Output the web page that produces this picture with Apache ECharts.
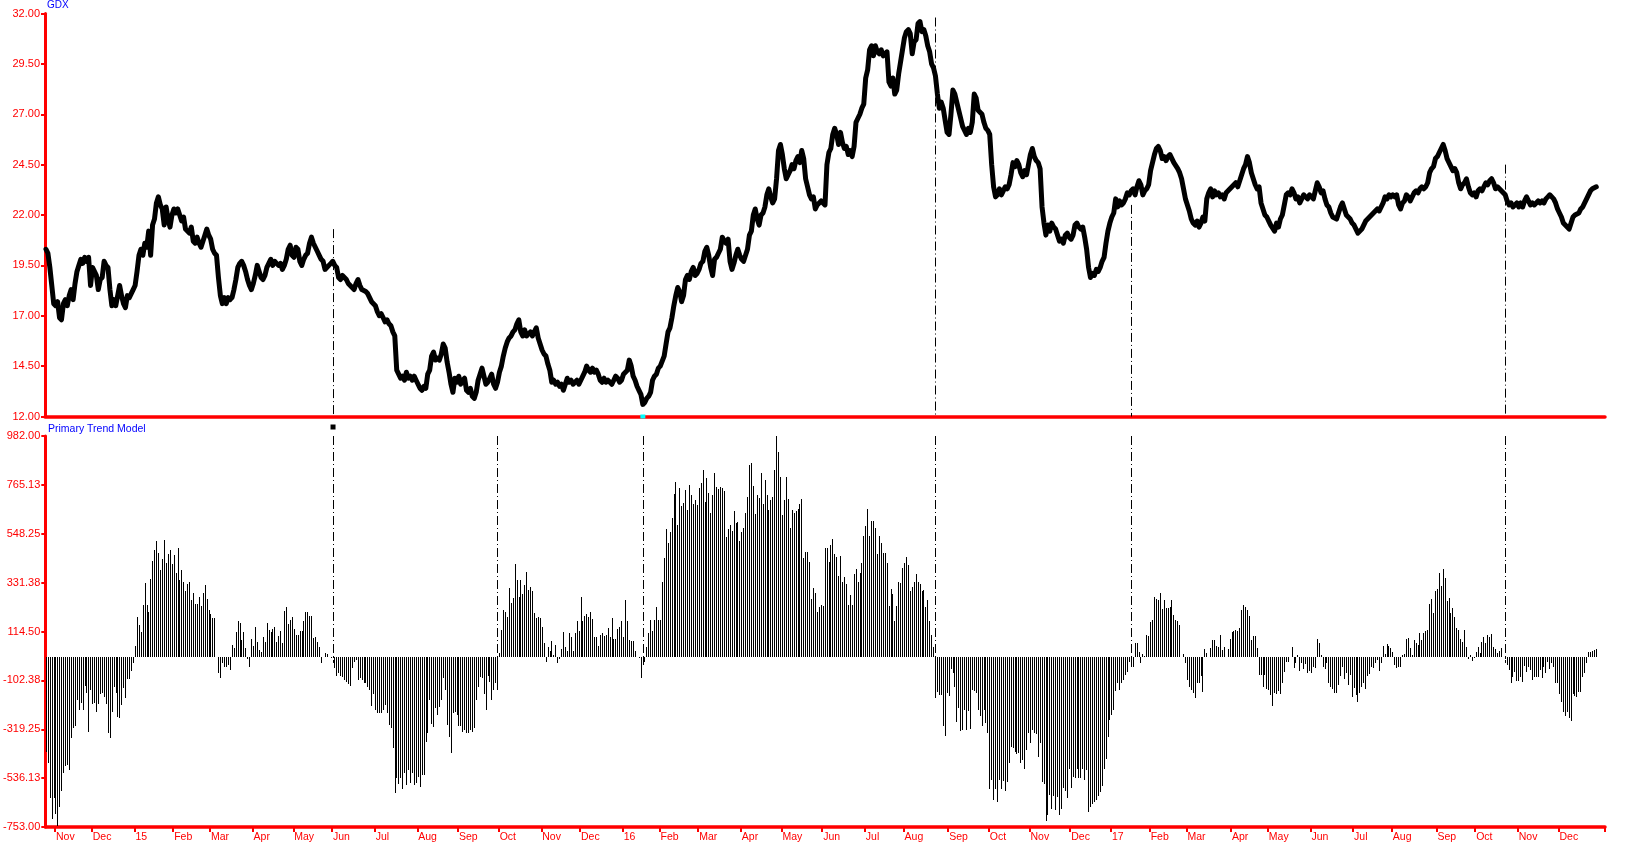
<!DOCTYPE html>
<html><head><meta charset="utf-8">
<script src="https://cdn.jsdelivr.net/npm/echarts@6/dist/echarts.min.js"></script>
<style>html,body{margin:0;padding:0;background:#fff}#chart{width:1647px;height:847px}</style>
</head><body><div id="chart"></div>
<script>
// ---------- DATA (daily) ----------
// GDX daily price (approx. close), one value per trading day
const gdx2014 = [20.3,20.1,19.4,18.5,17.6,
 17.5,17.7,16.9,16.8,17.6,17.8,17.5,18.0,18.3,17.8,18.6,19.2,19.5,19.8,19.6,19.9,19.7,19.9,18.5,
 19.4,19.2,19.0,18.3,18.8,18.9,19.7,19.5,19.4,18.3,17.5,17.8,17.5,18.0,18.5,18.0,17.6,17.4,18.0,17.9,18.1,18.3];
const gdx2015 = [
 18.5,19.2,20.0,20.3,20.0,20.6,20.4,21.2,20.0,21.5,21.8,22.6,22.9,22.5,22.3,21.5,22.4,21.8,21.4,22.0,
 22.3,22.1,22.3,22.0,21.7,21.9,21.3,21.2,21.1,21.4,20.7,20.6,20.9,20.6,20.4,20.7,21.0,21.3,21.0,
 20.8,20.3,20.1,20.0,18.9,18.0,17.6,17.9,17.6,17.9,17.8,17.9,18.3,18.8,19.4,19.6,19.7,19.5,19.2,18.8,18.5,18.3,
 18.6,19.0,19.5,19.2,18.9,18.8,19.0,19.4,19.6,19.8,19.5,19.7,19.6,19.5,19.6,19.3,19.5,19.8,20.3,20.5,20.0,
 19.9,20.4,20.3,19.7,19.5,19.8,20.0,20.1,20.6,20.9,20.6,20.6,20.2,20.0,19.8,19.7,19.3,19.3,19.5,19.6,
 19.7,19.5,19.4,18.9,18.8,19.0,18.9,18.8,18.6,18.5,18.4,18.3,18.6,18.8,18.5,18.3,18.3,18.2,18.1,17.9,17.7,17.6,
 17.5,17.2,17.0,17.1,16.9,16.7,16.8,16.6,16.5,16.2,16.0,14.3,14.1,13.9,14.0,13.8,14.2,13.9,14.0,13.8,14.0,13.8,
 13.6,13.4,13.3,13.5,13.4,14.1,14.3,15.0,15.2,14.8,14.9,14.8,15.1,15.6,15.4,14.7,14.2,13.6,13.2,13.9,13.7,
 14.0,13.6,13.8,13.9,13.3,13.2,13.4,13.0,12.9,13.2,13.8,14.1,14.4,14.0,13.6,13.7,13.9,14.1,13.6,13.4,13.7,
 14.2,14.5,15.0,15.4,15.7,15.9,16.0,16.2,16.3,16.6,16.8,16.2,16.0,16.3,16.0,16.1,16.2,16.0,16.2,16.4,15.9,15.6,
 15.3,15.1,15.0,14.6,14.3,13.7,13.8,13.6,13.7,13.5,13.6,13.3,13.6,13.9,13.7,13.8,13.6,13.7,13.8,13.6,
 13.8,14.0,14.2,14.5,14.3,14.2,14.4,14.2,14.3,14.1,13.8,13.7,13.9,13.7,13.8,13.7,13.6,13.8,14.0,13.9,13.7,13.8];
const gdx2016 = [
 14.1,14.2,14.3,14.8,14.5,14.0,13.8,13.5,13.3,13.1,12.6,12.7,12.9,13.0,13.2,13.8,14.0,14.1,14.4,
 14.5,14.5,15.0,15.6,16.2,16.4,16.9,17.5,18.0,18.4,18.2,17.7,18.0,18.8,19.0,18.8,19.2,19.4,19.0,19.1,
 19.3,19.6,19.7,20.2,20.4,20.0,19.4,19.0,19.8,19.9,20.1,20.3,20.9,20.7,20.6,20.8,19.7,19.3,19.6,20.0,20.3,20.0,
 19.8,19.7,20.0,20.3,21.0,21.2,22.0,22.3,21.8,21.5,22.0,22.1,22.4,23.0,23.3,22.9,22.6,22.8,23.8,25.2,25.5,
 25.0,24.3,23.8,24.0,24.2,24.5,24.3,24.7,24.9,24.6,25.2,24.8,23.8,23.4,23.0,22.8,22.9,22.3,22.5,22.6,22.7,
 22.6,22.5,24.5,25.1,25.3,26.0,26.3,26.0,25.5,26.1,25.6,25.3,25.4,25.0,25.2,24.9,25.4,26.6,26.8,27.0,27.3,27.5,
 28.8,29.2,30.2,30.4,29.9,30.4,30.1,30.0,30.2,29.9,30.0,30.1,28.6,28.4,28.8,28.0,28.2,29.0,29.6,30.2,
 30.8,31.1,31.2,31.0,30.0,30.6,30.7,31.5,31.6,31.1,31.2,30.9,30.4,30.1,29.5,29.3,28.9,28.0,27.3,27.6,27.3,26.7,26.1,
 26.0,27.0,28.2,28.0,28.0,27.2,26.8,26.4,26.2,26.0,26.3,26.1,26.6,28.0,27.8,27.2,27.1,27.0,26.6,26.3,26.2,
 26.0,24.5,23.4,22.9,23.0,23.3,23.0,23.2,23.4,23.3,23.5,24.0,24.6,24.4,24.7,24.5,24.1,23.9,24.2,24.0,24.5,
 25.0,25.3,24.9,24.7,24.6,24.3,22.4,21.6,21.0,21.5,21.2,21.6,21.4,21.3,21.0,20.7,20.8,20.6,21.0,21.1,20.9,
 20.8,21.0,21.5,21.6,21.4,21.3,21.4,20.9,20.3,19.4,18.9,19.1,19.0,19.3,19.2,19.4,19.7,19.9,20.6,21.2,21.6];
const gdx2017 = [
 21.9,22.1,22.8,22.4,22.7,22.5,22.6,22.8,23.1,23.0,23.2,23.3,23.0,23.4,23.7,23.5,23.0,23.2,23.3,23.5,
 24.2,24.6,25.0,25.3,25.4,25.2,24.8,24.9,24.7,24.9,25.0,24.8,24.6,24.6,24.3,24.1,23.8,23.3,22.8,
 22.5,22.2,21.8,21.6,21.5,21.7,21.4,21.6,21.9,21.7,22.8,23.1,23.3,22.9,23.2,23.0,23.1,22.9,23.0,22.8,23.1,23.2,23.3,
 23.3,23.5,23.6,23.4,23.7,24.0,24.3,24.5,24.9,24.6,24.1,23.8,23.5,23.3,23.4,22.6,22.3,22.0,21.9,
 21.7,21.5,21.5,21.2,21.6,21.4,21.8,22.0,22.5,23.0,23.1,23.0,23.3,23.1,22.8,22.9,22.6,22.8,23.0,22.9,22.8,23.0,
 22.9,22.8,23.2,23.6,23.4,23.1,23.2,22.8,22.5,22.4,22.1,21.9,21.9,21.8,22.1,22.4,22.6,22.3,22.0,21.9,21.8,21.6,
 21.5,21.3,21.1,21.2,21.3,21.5,21.7,21.8,21.9,22.0,22.1,22.2,22.3,22.2,22.4,22.6,22.9,22.8,23.0,22.9,
 23.0,22.9,23.0,22.5,22.3,22.6,22.7,23.0,22.9,22.7,22.9,23.1,23.2,23.1,23.3,23.4,23.3,23.4,23.6,24.1,24.3,24.4,24.8,
 24.9,25.1,25.3,25.5,25.2,24.8,24.6,24.4,24.2,24.3,24.1,23.6,23.3,23.5,23.6,23.8,23.4,23.1,23.0,23.1,
 22.9,23.2,23.3,23.2,23.4,23.6,23.5,23.7,23.8,23.6,23.3,23.4,23.3,23.2,23.1,23.0,22.7,22.5,22.6,22.4,22.5,22.6,
 22.4,22.6,22.4,22.7,22.9,22.7,22.5,22.6,22.5,22.6,22.7,22.6,22.7,22.6,22.8,22.9,23.0,23.0,22.8,22.6,22.3,
 22.1,21.9,21.6,21.5,21.5,21.3,21.6,21.9,22.0,22.0,22.1,22.3,22.4,22.6,22.8,23.0,23.2,23.3,23.3,23.4];

// Primary Trend Model histogram, one value per trading day
const ptm2014 = [-419,-468,-623,-719,-623,-696,-749,-663,-592,-515,-483,-478,-500,-357,-315,-305,-189,-234,-204,-234,
 -127,-160,-333,-145,-209,-201,-241,-209,-164,-160,-175,-209,-338,-357,-241,-133,-160,-263,-271,-212,-138,-182,-98,-98,-60,-24];
const ptm2015 = [
 50,178,142,112,231,330,231,201,346,426,474,518,462,388,435,521,417,459,474,412,
 453,376,487,343,388,336,292,327,332,255,284,237,237,269,228,287,321,258,210,
 190,173,173,3,-68,-93,-27,-41,-41,-34,-56,55,40,113,163,151,77,113,43,-9,-41,83,
 50,133,70,33,25,89,68,154,121,114,127,136,67,95,118,62,207,224,148,166,178,
 126,98,99,118,118,160,201,201,184,184,87,89,68,47,-24,2,18,13,2,-3,
 -4,-49,-83,-68,-83,-86,-101,-108,-118,-127,-49,-19,-12,-101,-93,-101,-115,-115,-130,-145,-216,-163,
 -234,-246,-249,-249,-234,-212,-249,-300,-315,-404,-600,-537,-560,-537,-586,-512,-567,-500,-557,-512,-567,-557,
 -530,-574,-523,-523,-375,-338,-189,-296,-308,-226,-256,-220,-189,-93,-145,-300,-355,-426,-249,-241,-256,
 -305,-305,-330,-323,-335,-338,-323,-330,-315,-189,-130,-89,-93,-163,-234,-83,-108,-189,-145,-115,-145,
 21,121,210,203,181,306,240,262,414,343,266,343,281,321,380,299,314,296,195,173,181,173,
 133,62,-19,44,30,73,10,55,-27,-9,36,113,47,30,107,89,30,107,163,118,
 269,163,184,192,181,201,169,89,92,50,98,110,95,100,129,89,173,80,80,124,133,163];
const ptm2016 = [
 89,255,163,77,74,74,30,3,-4,-93,-34,-19,44,107,166,118,166,225,166,
 166,332,440,568,506,554,617,725,776,588,750,672,684,743,654,765,721,681,699,676,
 750,773,829,687,795,731,642,721,820,755,746,755,750,736,533,568,588,562,647,598,602,514,
 558,573,639,713,854,862,758,637,721,706,820,681,788,720,654,699,713,829,983,913,799,
 632,699,799,702,573,654,639,647,660,681,702,440,469,469,425,258,306,287,203,222,232,
 228,484,484,425,499,524,457,447,361,450,336,355,324,232,277,232,370,391,332,373,420,539,
 583,657,539,607,607,573,459,539,509,462,462,420,228,302,281,163,228,336,329,395,
 417,444,410,292,311,332,370,332,326,296,299,225,255,163,99,44,-179,-155,-167,-167,-305,-349,-157,
 -172,-52,-71,-133,-286,-226,-327,-323,-234,-323,-237,-320,-145,-150,-160,-234,-261,-305,-234,-290,-335,
 -586,-545,-631,-586,-641,-545,-586,-548,-592,-552,-468,-400,-404,-419,-430,-423,-471,-456,-497,-412,-338,
 -382,-323,-338,-340,-441,-382,-552,-560,-725,-700,-611,-671,-616,-678,-622,-700,-675,-582,-592,-626,-497,
 -582,-530,-537,-497,-537,-537,-497,-545,-500,-685,-663,-651,-640,-631,-616,-597,-571,-497,-453,-355,-278];
const ptm2017 = [
 -256,-234,-148,-112,-145,-115,-101,-78,-64,-19,-41,-41,65,62,25,-27,13,6,99,95,
 158,166,266,260,255,287,213,255,218,218,222,255,188,166,163,144,0,15,-27,
 -101,-133,-145,-160,-182,-112,-112,-83,-152,36,18,3,40,77,77,50,44,98,33,44,0,36,80,
 111,118,121,117,129,210,232,222,210,184,77,95,95,40,-78,-78,-130,-78,-142,
 -145,-167,-216,-157,-163,-150,-163,-112,-64,-19,-19,0,47,-49,-27,10,-59,-27,-53,-30,-71,-59,
 -68,-44,-49,80,62,10,-41,-53,-27,-115,-133,-142,-160,-160,-123,-83,-41,-98,-68,-123,-78,-175,
 -138,-167,-197,-157,-133,-115,-142,-83,-74,-41,-49,-27,-12,-59,-27,50,15,59,50,40,
 25,-34,-49,-45,-41,10,15,80,84,40,10,77,65,55,107,77,107,118,121,237,258,195,292,
 302,373,317,391,351,252,262,195,218,178,129,121,80,70,121,47,-9,10,-15,-4,
 25,47,18,70,92,65,99,89,102,44,36,18,30,40,0,-9,-34,-56,-115,-89,-64,-104,
 -104,-86,-108,-38,-64,-41,-56,-101,-89,-89,-86,-56,-93,-41,-68,-19,-53,-27,-41,-115,-112,
 -163,-197,-241,-261,-241,-271,-281,-163,-172,-178,-152,-152,-89,-68,-27,25,25,30,33,35];

// Trading-day indices of the signal lines (from 2014-10-27) and the price where each top line starts
const signalTopIdx = [148, 459, 560, 753];
const signalTopFrom = [21.3, 31.8, 22.5, 24.5];
const signalBottomIdx = [148, 233, 308, 459, 560, 753];
const markBlackIdx = 148, markCyanIdx = 308;

const priceTicks = {min: 12, max: 32, step: 2.5};
const ptmTicks = {min: -753, max: 982, step: 216.875};
const MONTHS = ['Jan','Feb','Mar','Apr','May','Jun','Jul','Aug','Sep','Oct','Nov','Dec'];
const HOLIDAYS = ['2014-11-27','2014-12-25','2015-01-01','2015-01-19','2015-02-16','2015-04-03','2015-05-25',
 '2015-07-03','2015-09-07','2015-11-26','2015-12-25','2016-01-01','2016-01-18','2016-02-15','2016-03-25',
 '2016-05-30','2016-07-04','2016-09-05','2016-11-24','2016-12-26','2017-01-02','2017-01-16','2017-02-20',
 '2017-04-14','2017-05-29','2017-07-04','2017-09-04','2017-11-23','2017-12-25'];

// ---------- BUILD ----------
const price = [].concat(gdx2014, gdx2015, gdx2016, gdx2017);
const ptm = [].concat(ptm2014, ptm2015, ptm2016, ptm2017);
const N = Math.max(price.length, ptm.length);
const PAD = 4;

function buildDates(n) {
  const out = []; const d = new Date(Date.UTC(2014, 9, 27));
  while (out.length < n) {
    const wd = d.getUTCDay(); const s = d.toISOString().slice(0, 10);
    if (wd !== 0 && wd !== 6 && HOLIDAYS.indexOf(s) < 0) out.push(s);
    d.setUTCDate(d.getUTCDate() + 1);
  }
  return out;
}
const cats = buildDates(N + PAD);
const monthStart = cats.map((s, i) => i > 0 && i < N && s.slice(5, 7) !== cats[i - 1].slice(5, 7));
function monthLabel(s) {
  const m = +s.slice(5, 7) - 1;
  return m === 0 ? s.slice(2, 4) : MONTHS[m];
}

const RED = '#ff0000', BLUE = '#0000ff';
const FONT = '"Liberation Sans", Arial, sans-serif';
const DASH = [9, 3, 1, 3];

// crisp 1-px histogram bars, positioned through the axes' own scales
function renderPtmBar(params, api) {
  const i = api.value(0), v = api.value(1);
  const p0 = api.coord([i, 0]);
  const p1 = api.coord([i, v]);
  const x = Math.round(p0[0] - 0.5);
  const y0 = Math.round(p0[1]), y1 = Math.round(p1[1]);
  const h = Math.abs(y1 - y0);
  if (h < 1) return null;
  return {type: 'rect', shape: {x: x, y: Math.min(y0, y1), width: 1, height: h},
          style: {fill: '#000'}};
}

const chart = echarts.init(document.getElementById('chart'), null, {renderer: 'canvas'});
chart.setOption({
  animation: false,
  backgroundColor: '#ffffff',
  title: [
    {text: 'GDX', left: 47, top: 0, padding: 0, textStyle: {color: BLUE, fontSize: 10, fontWeight: 'normal', fontFamily: FONT}},
    {text: 'Primary Trend Model', left: 48, top: 424, padding: 0, textStyle: {color: BLUE, fontSize: 10.5, fontWeight: 'normal', fontFamily: FONT}}
  ],
  grid: [
    {left: 45, right: 42, top: 13.5, height: 403},
    {left: 45, right: 42, top: 436, height: 391}
  ],
  xAxis: [
    {gridIndex: 0, type: 'category', data: cats, boundaryGap: true,
     axisLine: {show: true, onZero: false, lineStyle: {color: RED, width: 3.5}},
     axisTick: {show: false}, axisLabel: {show: false}, splitLine: {show: false}},
    {gridIndex: 1, type: 'category', data: cats, boundaryGap: true,
     axisLine: {show: true, onZero: false, lineStyle: {color: RED, width: 3.5}},
     axisTick: {show: true, interval: (i) => monthStart[i], length: 5, lineStyle: {color: RED, width: 2}},
     axisLabel: {show: true, interval: (i) => monthStart[i], formatter: (v, i) => monthStart[i] ? monthLabel(v) : '',
                 color: RED, fontSize: 10.5, fontFamily: FONT, align: 'left', margin: 5},
     splitLine: {show: false}}
  ],
  yAxis: [
    {gridIndex: 0, type: 'value', min: priceTicks.min, max: priceTicks.max, interval: priceTicks.step,
     axisLine: {show: true, lineStyle: {color: RED, width: 3}},
     axisTick: {show: true, length: 4, lineStyle: {color: RED, width: 2}},
     axisLabel: {color: RED, fontSize: 11, fontFamily: FONT, margin: 5, showMinLabel: true, showMaxLabel: true,
                 formatter: (v) => v.toFixed(2)},
     splitLine: {show: false}},
    {gridIndex: 1, type: 'value', min: ptmTicks.min, max: ptmTicks.max, interval: ptmTicks.step,
     axisLine: {show: true, lineStyle: {color: RED, width: 3}},
     axisTick: {show: true, length: 4, lineStyle: {color: RED, width: 2}},
     axisLabel: {color: RED, fontSize: 11, fontFamily: FONT, margin: 5, showMinLabel: true, showMaxLabel: true,
                 formatter: (v) => v.toFixed(2)},
     splitLine: {show: false}}
  ],
  series: [
    {type: 'line', xAxisIndex: 0, yAxisIndex: 0, data: price, symbol: 'none', silent: true, clip: false, z: 3,
     lineStyle: {color: '#000', width: 5, join: 'round', cap: 'round'},
     markLine: {silent: true, symbol: ['none', 'none'], label: {show: false}, animation: false,
       lineStyle: {color: '#000', width: 1, type: DASH},
       data: signalTopIdx.map((x, k) => [{coord: [x, signalTopFrom[k]]}, {coord: [x, priceTicks.min]}])},
     markPoint: {silent: true, animation: false, label: {show: false},
       data: [
         {coord: [markCyanIdx, priceTicks.min], symbol: 'rect', symbolSize: [5, 4], itemStyle: {color: '#00ffff'}}
       ]}},
    {type: 'custom', xAxisIndex: 1, yAxisIndex: 1, data: ptm.map((v, i) => [i, v]),
     encode: {x: 0, y: 1}, renderItem: renderPtmBar, silent: true, clip: false,
     markLine: {silent: true, symbol: ['none', 'none'], label: {show: false}, animation: false,
       lineStyle: {color: '#000', width: 1, type: DASH},
       data: signalBottomIdx.map((x) => [{coord: [x, ptmTicks.max]}, {coord: [x, -25]}])},
     markPoint: {silent: true, animation: false, label: {show: false},
       data: [
         {coord: [markBlackIdx, ptmTicks.max], symbol: 'rect', symbolSize: [5, 5], symbolOffset: [0, -9],
          itemStyle: {color: '#000'}}
       ]}}
  ]
});
</script></body></html>
